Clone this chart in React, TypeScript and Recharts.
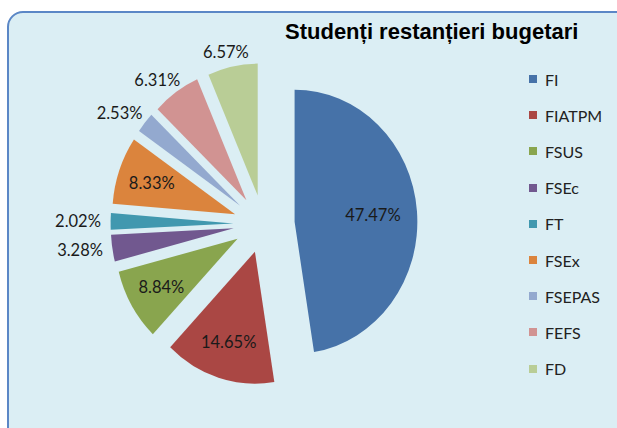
import { PieChart, Pie, Cell, Legend, Sector } from "recharts";

const faculties = ["FI", "FIATPM", "FSUS", "FSEc", "FT", "FSEx", "FSEPAS", "FEFS", "FD"];
const shares = [47.47, 14.65, 8.84, 3.28, 2.02, 8.33, 2.53, 6.31, 6.57];
const colors = ["#4672A8", "#AA4744", "#89A54E", "#71588F", "#4198AF", "#DB843D", "#93A9CF", "#D19392", "#B9CD96"];

const data = faculties.map((name, i) => ({ name, value: shares[i] }));

const RAD = Math.PI / 180;
const EXPLODE_X = 33;
const EXPLODE_Y = 29;
const SQUASH = 0.93; // the original picture is a bit narrower than tall

function ExplodedSlice(props: any) {
  const { cx, cy, midAngle, innerRadius, outerRadius, startAngle, endAngle, fill } = props;
  const dx = Math.cos(-midAngle * RAD) * EXPLODE_X;
  const dy = Math.sin(-midAngle * RAD) * EXPLODE_Y;
  return (
    <g transform={`translate(${cx} 0) scale(${SQUASH} 1) translate(${-cx} 0)`}>
      <Sector
        cx={cx + dx}
        cy={cy + dy}
        innerRadius={innerRadius}
        outerRadius={outerRadius}
        startAngle={startAngle}
        endAngle={endAngle}
        fill={fill}
        stroke="none"
      />
    </g>
  );
}

function renderLabel(props: any) {
  const { cx, cy, midAngle, outerRadius } = props;
  const value = props.value ?? props.payload?.value;
  const ux = Math.cos(-midAngle * RAD);
  const uy = Math.sin(-midAngle * RAD);
  const vx = cx + ux * EXPLODE_X * SQUASH;
  const vy = cy + uy * EXPLODE_Y;
  let x: number;
  let y: number;
  if (value > 8) {
    const r = outerRadius * (value > 40 ? 0.64 : 0.72);
    x = vx + ux * r * SQUASH;
    y = vy + uy * r;
  } else {
    const r = outerRadius + 6;
    x = vx + ux * r * SQUASH + ux * 27;
    y = vy + uy * r + uy * 9;
  }
  return (
    <text
      x={x}
      y={y}
      textAnchor="middle"
      dominantBaseline="central"
      fill="#1a1a1a"
      fontFamily="Lato"
      fontSize={16.5}
    >
      {value.toFixed(2)}%
    </text>
  );
}

function LegendList(props: any) {
  const items = [...(props.payload || [])].sort(
    (a: any, b: any) => faculties.indexOf(a.value) - faculties.indexOf(b.value)
  );
  return (
    <div>
      {items.map((item: any) => (
        <div
          key={item.value}
          style={{ display: "flex", alignItems: "center", height: 36.2, fontFamily: "Lato", fontSize: 16, color: "#222" }}
        >
          <span style={{ width: 8, height: 8, background: item.color, marginRight: 8, display: "inline-block" }} />
          {item.value}
        </div>
      ))}
    </div>
  );
}

export default function App() {
  return (
    <div style={{ position: "absolute", left: 0, top: 0, width: 617, height: 428, overflow: "hidden", background: "#fff" }}>
      <div
        style={{
          position: "absolute",
          left: 7,
          top: 11,
          width: 700,
          height: 440,
          background: "#DBEEF4",
          border: "2px solid #5B87C6",
          borderRadius: 16,
          boxSizing: "border-box",
        }}
      />
      <div
        style={{
          position: "absolute",
          left: 285,
          top: 19,
          fontFamily: "'Liberation Sans', Arial, sans-serif",
          fontWeight: "bold",
          fontSize: 22,
          lineHeight: "normal",
          color: "#000",
          whiteSpace: "nowrap",
        }}
      >
        Studenți restanțieri bugetari
      </div>
      <div style={{ position: "absolute", left: 0, top: 0 }}>
        <PieChart width={617} height={428} margin={{ top: 0, right: 0, bottom: 0, left: 0 }}>
          <Pie
            data={data}
            dataKey="value"
            nameKey="name"
            cx={264}
            cy={224}
            outerRadius={132}
            startAngle={90}
            endAngle={-270}
            stroke="none"
            labelLine={false}
            label={renderLabel}
            shape={ExplodedSlice}
            isAnimationActive={false}
          >
            {data.map((d, i) => (
              <Cell key={d.name} fill={colors[i]} />
            ))}
          </Pie>
          <Legend
            layout="vertical"
            align="right"
            verticalAlign="top"
            content={LegendList}
            wrapperStyle={{ left: 529, top: 61, width: 88 }}
          />
        </PieChart>
      </div>
    </div>
  );
}
